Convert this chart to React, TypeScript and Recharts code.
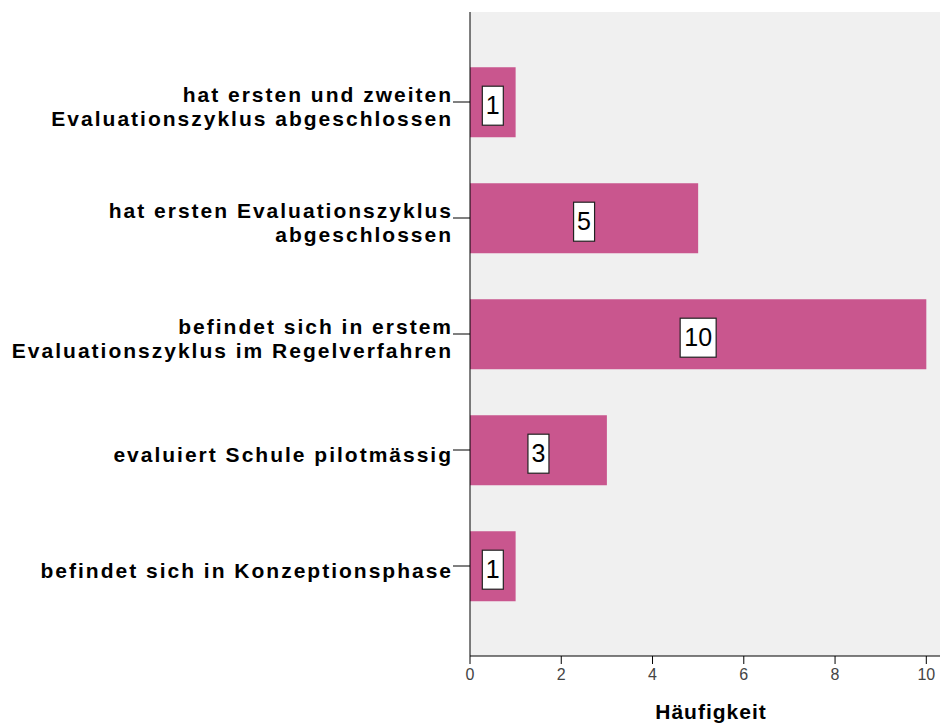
import { Bar, BarChart, CartesianGrid, LabelList, XAxis, YAxis } from "recharts";

const kategorien = [
  "hat ersten und zweiten\nEvaluationszyklus abgeschlossen",
  "hat ersten Evaluationszyklus\nabgeschlossen",
  "befindet sich in erstem\nEvaluationszyklus im Regelverfahren",
  "evaluiert Schule pilotmässig",
  "befindet sich in Konzeptionsphase",
];
const haeufigkeiten = [1, 5, 10, 3, 1];
const xTicks = [0, 2, 4, 6, 8, 10];

const daten = kategorien.map((name, i) => ({ name, wert: haeufigkeiten[i] }));

const schrift = "Arial, 'Liberation Sans', sans-serif";
const zeilenAbstand = 24.5;

function KategorieTick({ x, y, payload }: any) {
  const zeilen = String(payload.value).split("\n");
  const start = y + 12 - ((zeilen.length - 1) * zeilenAbstand) / 2;
  return (
    <text
      x={x + 2}
      y={start}
      textAnchor="end"
      fontFamily={schrift}
      fontWeight="bold"
      fontSize={21}
      letterSpacing={2}
      fill="#000"
    >
      {zeilen.map((z, i) => (
        <tspan key={i} x={x + 2} y={start + i * zeilenAbstand}>
          {z}
        </tspan>
      ))}
    </text>
  );
}

function WertLabel({ x, y, width, height, value }: any) {
  const cx = x + width / 2;
  const cy = y + height / 2;
  const w = String(value).length > 1 ? 36 : 21;
  return (
    <g>
      <rect
        x={cx - w / 2}
        y={cy - 16}
        width={w}
        height={39}
        fill="#fff"
        stroke="#222"
        strokeWidth={1.2}
      />
      <text
        x={cx}
        y={cy + 12}
        textAnchor="middle"
        fontFamily={schrift}
        fontSize={25}
        fill="#000"
      >
        {value}
      </text>
    </g>
  );
}

function AchsenTitel({ viewBox }: any) {
  const { x, width } = viewBox;
  return (
    <text
      x={x + width / 2 + 6}
      y={719}
      textAnchor="middle"
      fontFamily={schrift}
      fontWeight="bold"
      fontSize={21}
      letterSpacing={1}
      fill="#000"
    >
      Häufigkeit
    </text>
  );
}

export default function App() {
  return (
    <div style={{ position: "absolute", left: 0, top: 0, background: "#fff" }}>
      <BarChart
        width={940}
        height={724}
        data={daten}
        layout="vertical"
        margin={{ top: 12, right: 0, bottom: 0, left: 0 }}
        barCategoryGap="20%"
      >
        <CartesianGrid horizontal={false} vertical={false} fill="#f0f0f0" />
        <XAxis
          type="number"
          domain={[0, 10.3]}
          ticks={xTicks}
          height={68}
          axisLine={{ stroke: "#000" }}
          tickLine={{ stroke: "#000" }}
          tickSize={8}
          tick={{ fontFamily: schrift, fontSize: 16, fill: "#444", dy: 3 }}
          label={<AchsenTitel />}
        />
        <XAxis
          xAxisId="oben"
          type="number"
          orientation="top"
          domain={[0, 10.3]}
          height={0}
          tick={false}
          tickLine={false}
          axisLine={{ stroke: "#888" }}
        />
        <YAxis
          type="category"
          dataKey="name"
          width={470}
          padding={{ top: 32, bottom: 32 }}
          axisLine={{ stroke: "#000" }}
          tickLine={{ stroke: "#000" }}
          tickSize={17}
          tick={<KategorieTick />}
        />
        <Bar dataKey="wert" fill="#c9568e" isAnimationActive={false}>
          <LabelList dataKey="wert" content={<WertLabel />} />
        </Bar>
      </BarChart>
    </div>
  );
}
